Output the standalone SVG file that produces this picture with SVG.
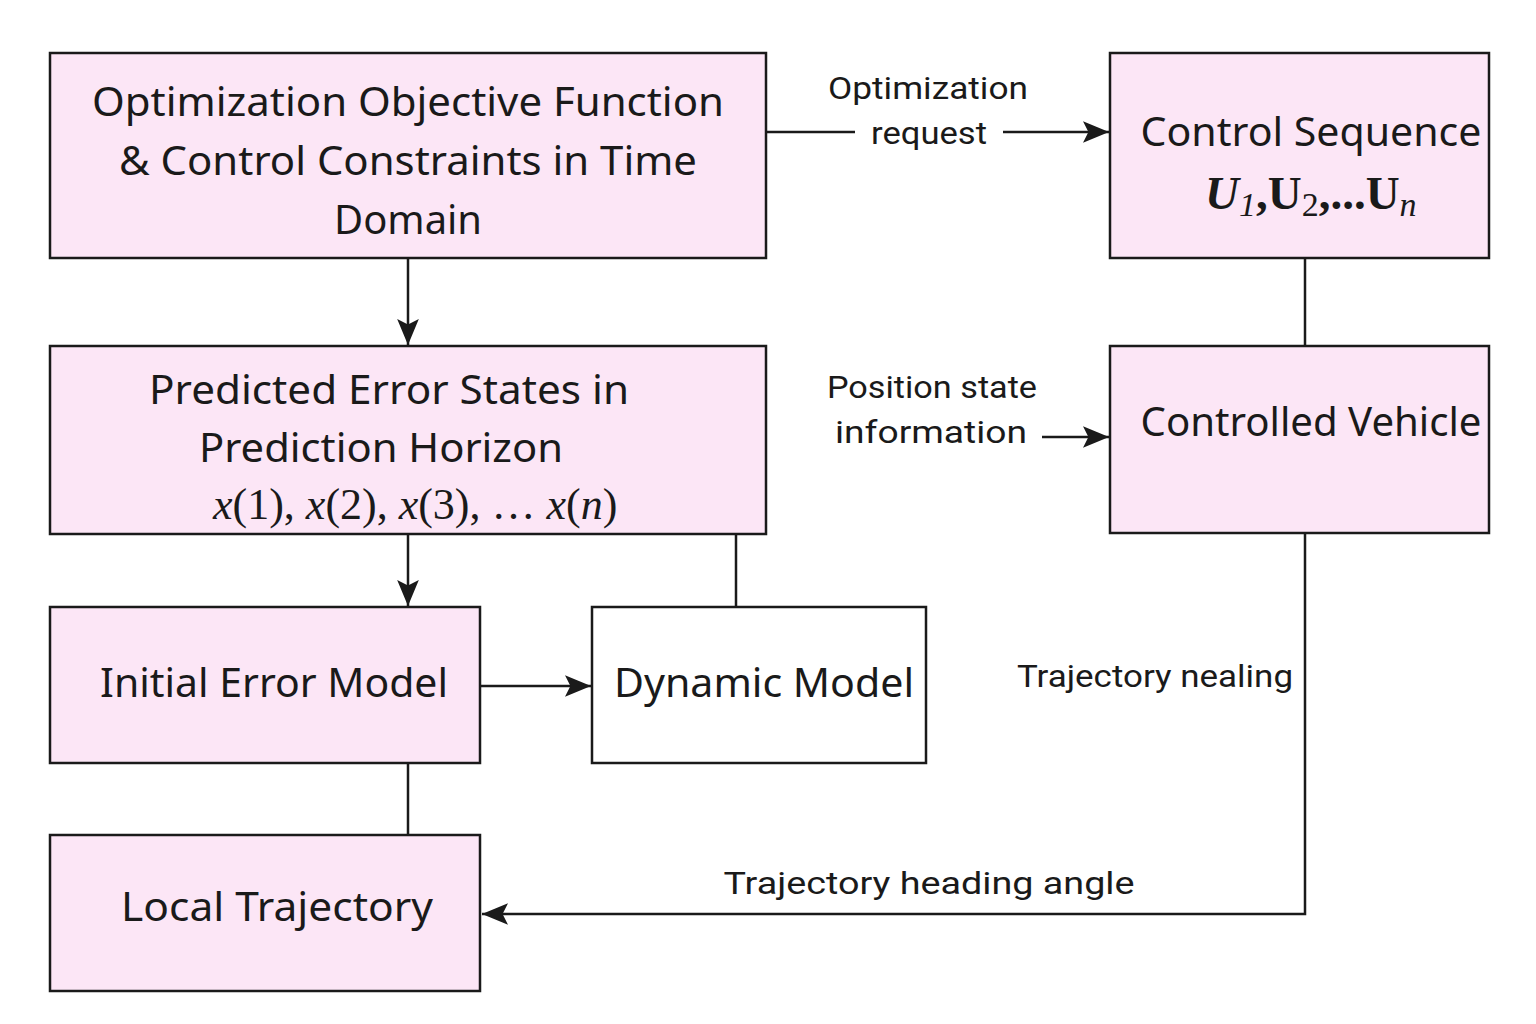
<svg xmlns="http://www.w3.org/2000/svg" width="1536" height="1024" viewBox="0 0 1536 1024">
<style>
.box{fill:#fce6f6;stroke:#1a1a1a;stroke-width:2.5}
.wbox{fill:#ffffff;stroke:#1a1a1a;stroke-width:2.5}
.t{font-family:"Noto Sans","Open Sans",sans-serif;font-size:40px;fill:#1a1a1a;text-anchor:middle}
.l{font-family:Roboto,"Noto Sans",sans-serif;font-size:32px;fill:#1a1a1a;text-anchor:middle}
.m{font-family:"Liberation Serif","DejaVu Serif",serif;font-style:italic;fill:#1a1a1a}
.c{fill:none;stroke:#1a1a1a;stroke-width:2.5}
</style>
<defs>
<marker id="ah" viewBox="0 0 24 20" refX="24" refY="10" markerWidth="26" markerHeight="22" markerUnits="userSpaceOnUse" orient="auto">
<path d="M0,0 L24,10 L0,20 L5,10 Z" fill="#1a1a1a"/>
</marker>
</defs>
<rect width="1536" height="1024" fill="#ffffff"/>
<g id="connectors">
<line class="c" x1="408" y1="258" x2="408" y2="345" marker-end="url(#ah)"/>
<line class="c" x1="408" y1="534" x2="408" y2="606" marker-end="url(#ah)"/>
<line class="c" x1="736" y1="534" x2="736" y2="607"/>
<line class="c" x1="480" y1="686" x2="591" y2="686" marker-end="url(#ah)"/>
<line class="c" x1="408" y1="763" x2="408" y2="835"/>
<line class="c" x1="766" y1="132" x2="855" y2="132"/>
<line class="c" x1="1003" y1="132" x2="1109" y2="132" marker-end="url(#ah)"/>
<line class="c" x1="1305" y1="258" x2="1305" y2="346"/>
<line class="c" x1="1042" y1="437" x2="1109" y2="437" marker-end="url(#ah)"/>
<polyline class="c" points="1305,534 1305,914 482,914" marker-end="url(#ah)"/>
<text class="l" x="928" y="99" textLength="200" lengthAdjust="spacingAndGlyphs">Optimization</text>
<text class="l" x="929" y="144" textLength="116" lengthAdjust="spacingAndGlyphs">request</text>
<text class="l" x="932" y="398" textLength="210" lengthAdjust="spacingAndGlyphs">Position state</text>
<text class="l" x="931" y="443" textLength="192" lengthAdjust="spacingAndGlyphs">information</text>
<text class="l" x="1155" y="687" textLength="276" lengthAdjust="spacingAndGlyphs">Trajectory nealing</text>
<text class="l" x="929" y="894" textLength="411" lengthAdjust="spacingAndGlyphs">Trajectory heading angle</text>
</g>
<g id="node-objective">
<rect class="box" x="50" y="53" width="716" height="205"/>
<text class="t" x="408" y="116" textLength="632" lengthAdjust="spacingAndGlyphs">Optimization Objective Function</text>
<text class="t" x="408" y="175" textLength="578" lengthAdjust="spacingAndGlyphs">&amp; Control Constraints in Time</text>
<text class="t" x="408" y="234" textLength="148" lengthAdjust="spacingAndGlyphs">Domain</text>
</g>
<g id="node-control-sequence">
<rect class="box" x="1110" y="53" width="379" height="205"/>
<text class="t" x="1311" y="146" textLength="341" lengthAdjust="spacingAndGlyphs">Control Sequence</text>
<text class="m" x="1205" y="209" font-size="47" font-weight="bold">U<tspan font-size="34" font-weight="normal" dy="7">1</tspan><tspan dy="-7" font-style="normal">,U</tspan><tspan font-size="34" font-weight="normal" font-style="normal" dy="7">2</tspan><tspan dy="-7" font-style="normal">,...U</tspan><tspan font-size="34" font-weight="normal" dy="7">n</tspan></text>
</g>
<g id="node-predicted">
<rect class="box" x="50" y="346" width="716" height="188"/>
<text class="t" x="389" y="404" textLength="480" lengthAdjust="spacingAndGlyphs">Predicted Error States in</text>
<text class="t" x="381" y="462" textLength="364" lengthAdjust="spacingAndGlyphs">Prediction Horizon</text>
<text class="m" x="213" y="519" font-size="44">x<tspan font-style="normal">(1), </tspan>x<tspan font-style="normal">(2), </tspan>x<tspan font-style="normal">(3), … </tspan>x<tspan font-style="normal">(</tspan>n<tspan font-style="normal">)</tspan></text>
</g>
<g id="node-vehicle">
<rect class="box" x="1110" y="346" width="379" height="187"/>
<text class="t" x="1311" y="436" textLength="341" lengthAdjust="spacingAndGlyphs">Controlled Vehicle</text>
</g>
<g id="node-initial-error">
<rect class="box" x="50" y="607" width="430" height="156"/>
<text class="t" x="274" y="697" textLength="348" lengthAdjust="spacingAndGlyphs">Initial Error Model</text>
</g>
<g id="node-dynamic">
<rect class="wbox" x="592" y="607" width="334" height="156"/>
<text class="t" x="764" y="697" textLength="300" lengthAdjust="spacingAndGlyphs">Dynamic Model</text>
</g>
<g id="node-local-trajectory">
<rect class="box" x="50" y="835" width="430" height="156"/>
<text class="t" x="277" y="921" textLength="312" lengthAdjust="spacingAndGlyphs">Local Trajectory</text>
</g>
</svg>
